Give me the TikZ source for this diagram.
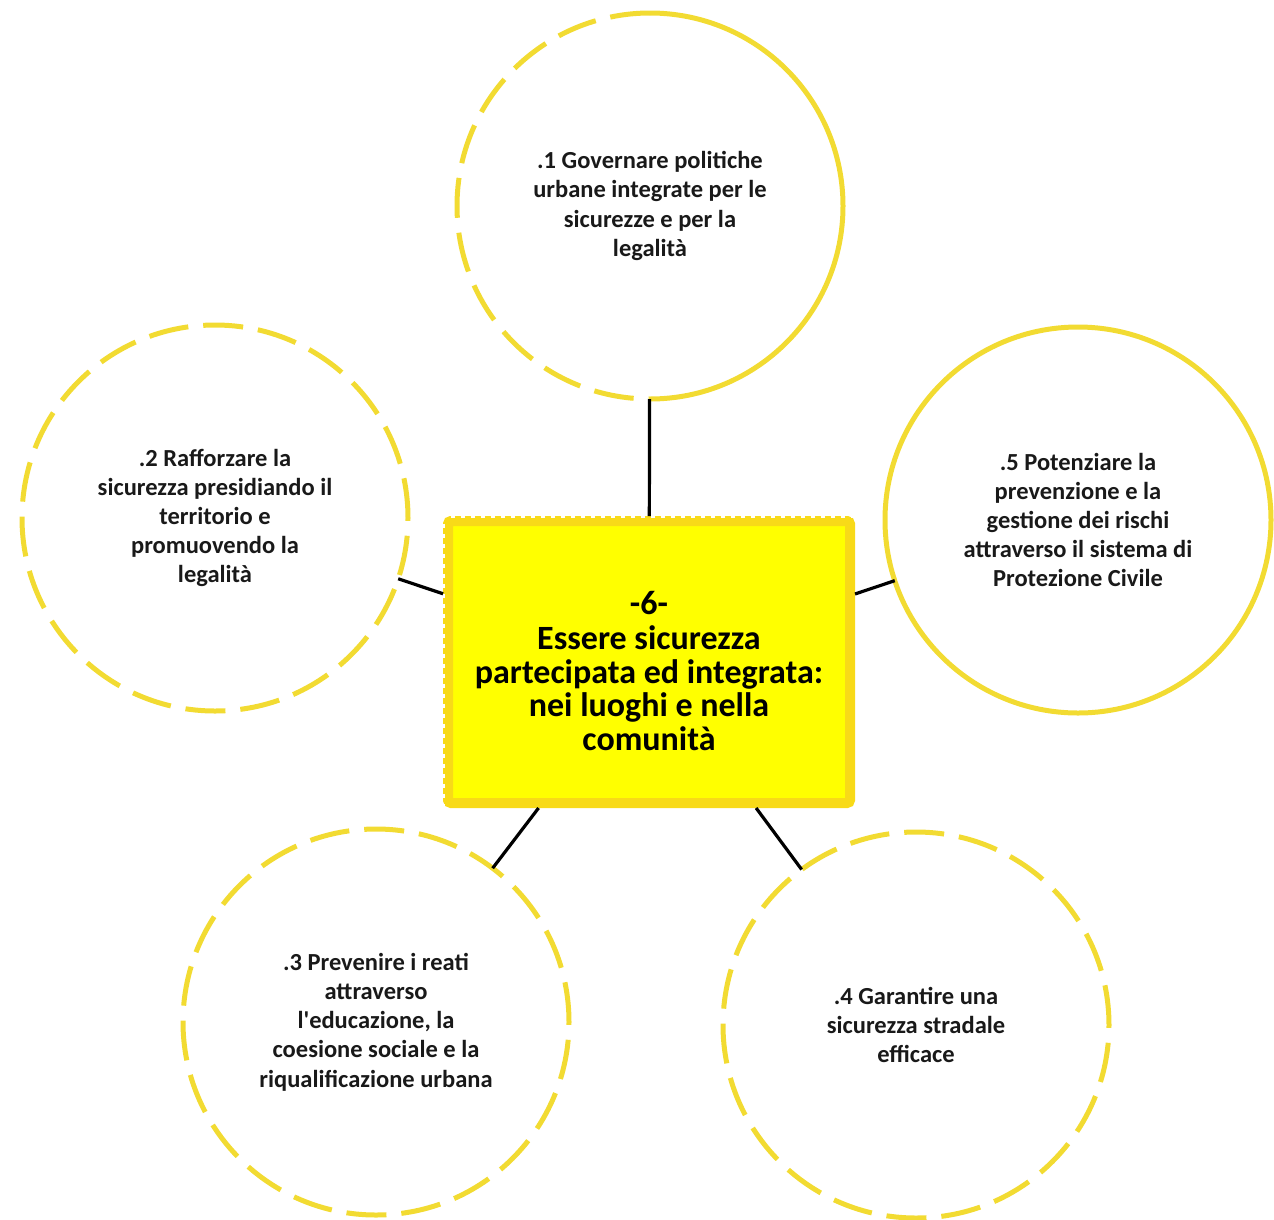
\documentclass[tikz,border=0pt]{standalone}
\usepackage{fontspec}
\setmainfont{Carlito}
\usepackage{tikz}
\usetikzlibrary{positioning,calc}
\definecolor{ringyellow}{HTML}{F2DB32}
\definecolor{boxyellow}{HTML}{FFFF00}
\definecolor{boxedge}{HTML}{F8DA18}

\begin{document}
\begin{tikzpicture}[
  x=1pt, y=-1pt,
  every node/.style={font=\bfseries},
  goal/.style={circle, minimum size=386pt, inner sep=0pt, outer sep=0pt, align=center, text=black!90, font=\fontsize{24.5}{29.2}\selectfont\bfseries},
  ring/.style={draw=ringyellow, line width=5pt},
  dashring/.style={ring, dash pattern=on 40pt off 15pt},
  core/.style={draw=boxedge, fill=boxyellow, line width=10pt, rounded corners=3pt, minimum width=402pt, minimum height=282pt, inner sep=0pt, outer sep=5pt},
  coretext/.style={align=center, inner sep=0pt, font=\fontsize{34}{33.5}\selectfont\bfseries},
  dots/.style={white, line width=4pt, dash pattern=on 4pt off 6pt},
  link/.style={draw=black, line width=3.2pt}
]
\useasboundingbox (0,0) rectangle (1274,1219);

\node[core] (core) at (649,662) {};
\draw[dots] (core.south west) -- (core.north west) -- (core.north east);
\node[coretext] (title) at (649,671) {-6-\\[2pt]Essere sicurezza\\partecipata ed integrata:\\nei luoghi e nella\\comunità};

\node[goal] (gov) at (650,206) {.1 Governare politiche\\urbane integrate per le\\sicurezze e per la\\legalità};
\draw[dashring] (gov.north) arc[start angle=90, end angle=270, radius=193pt];
\draw[ring] (gov.north) arc[start angle=90, end angle=-90, radius=193pt];

\node[goal, dashring] (presid) at (215,518) {.2 Rafforzare la\\sicurezza presidiando il\\territorio e\\promuovendo la\\legalità};
\node[goal, ring] (protciv) at (1078,520) {.5 Potenziare la\\prevenzione e la\\gestione dei rischi\\attraverso il sistema di\\Protezione Civile};
\node[goal, dashring] (reati) at (376,1022) {.3 Prevenire i reati\\attraverso\\l\textquotesingle educazione, la\\coesione sociale e la\\riqualificazione urbana};
\node[goal, dashring] (strad) at (916,1025) {.4 Garantire una\\sicurezza stradale\\efficace};

\draw[link] (core) -- (gov);
\draw[link] (core) -- (presid);
\draw[link] (core) -- (protciv);
\draw[link] (core) -- (reati);
\draw[link] (core) -- (strad);
\end{tikzpicture}
\end{document}
